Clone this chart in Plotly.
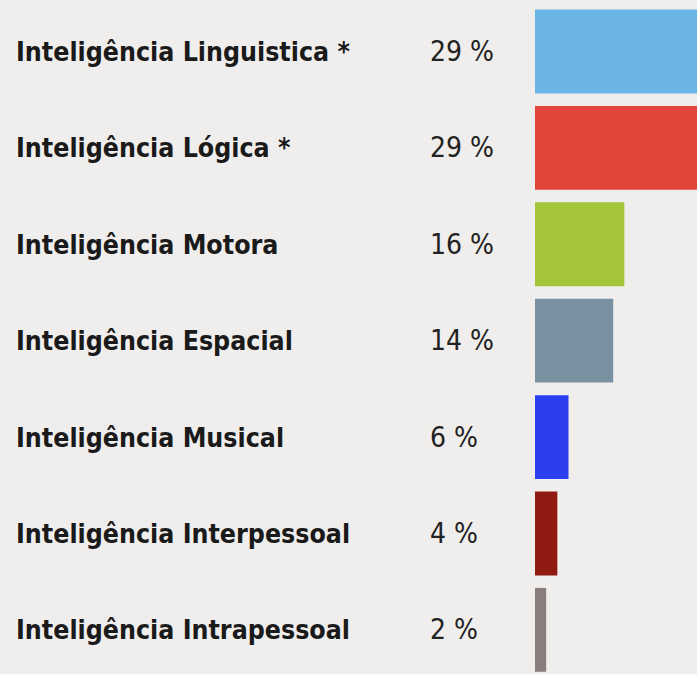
import plotly.graph_objects as go

categories = [
    "Inteligência Linguistica *",
    "Inteligência Lógica *",
    "Inteligência Motora",
    "Inteligência Espacial",
    "Inteligência Musical",
    "Inteligência Interpessoal",
    "Inteligência Intrapessoal",
]
values = [29, 29, 16, 14, 6, 4, 2]
bar_colors = ["#6ab4e6", "#e0443a", "#a4c53a", "#7890a0", "#2b3ff0", "#8e1a12", "#8a7e7c"]

W, H = 697, 674
L = 535
plot_w = W - L

def px_to_paper(p):
    return (p - L) / plot_w

FONT = "Liberation Sans Narrow, DejaVu Sans Condensed, Liberation Sans, sans-serif"

fig = go.Figure(
    go.Bar(
        x=values,
        y=categories,
        orientation="h",
        marker=dict(color=bar_colors, line=dict(width=0)),
        hoverinfo="skip",
    )
)

annotations = []
for cat, v in zip(categories, values):
    annotations.append(dict(
        x=px_to_paper(14), xref="paper", y=cat, yref="y",
        text="<b>" + cat + "</b>", showarrow=False, xanchor="left", yanchor="middle",
        font=dict(family=FONT, size=26.5, color="#1a1a1a"),
    ))
    annotations.append(dict(
        x=px_to_paper(428), xref="paper", y=cat, yref="y",
        text=f"{v} %", showarrow=False, xanchor="left", yanchor="middle",
        font=dict(family=FONT, size=28, color="#222222"),
    ))

fig.update_layout(
    width=W, height=H,
    margin=dict(l=L, r=0, t=0, b=0),
    paper_bgcolor="#f0eeed",
    plot_bgcolor="#f0eeed",
    bargap=0.13,
    showlegend=False,
    xaxis=dict(range=[0, 29], visible=False, fixedrange=True),
    yaxis=dict(type="category", range=[6.458, -0.534], visible=False, fixedrange=True),
    annotations=annotations,
)

fig.write_html(
    "out.html",
    config={"displayModeBar": False},
    post_script="document.body.style.margin='0';document.body.style.background='#f0eeed';document.body.style.overflow='hidden';",
)
